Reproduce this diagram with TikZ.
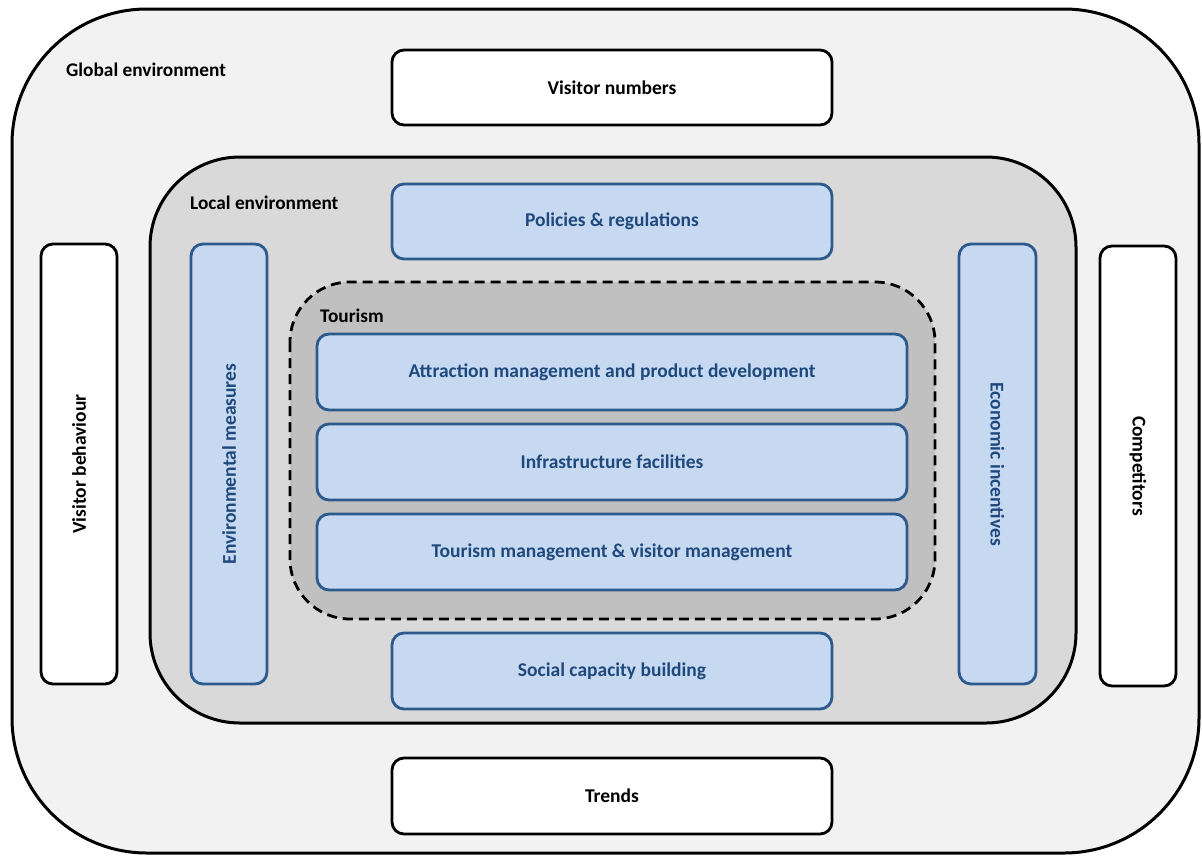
\documentclass[tikz,border=0pt]{standalone}
\usepackage{fontspec}
\setmainfont{Carlito}
\definecolor{globfill}{HTML}{F2F2F2}
\definecolor{locfill}{HTML}{D9D9D9}
\definecolor{tourfill}{HTML}{C0C0C0}
\definecolor{bluefill}{HTML}{C6D9F1}
\definecolor{blueline}{HTML}{2C5A8C}
\definecolor{bluetext}{HTML}{1F497D}
\begin{document}
\begin{tikzpicture}[x=1pt,y=-1pt,
  box/.style={rectangle, rounded corners=12pt, line width=2.8pt, inner sep=0pt, font=\bfseries\fontsize{19.5}{23}\selectfont},
  whitebox/.style={box, draw=black, fill=white, text=black},
  bluebox/.style={box, draw=blueline, fill=bluefill, text=bluetext},
  lbl/.style={anchor=west, inner sep=0pt, font=\bfseries\fontsize{19.3}{23}\selectfont}]
\useasboundingbox (0,0) rectangle (1202,855);
\fill[white] (0,0) rectangle (1202,855);
% containers
\draw[line width=3pt, fill=globfill, rounded corners=135pt] (12,9) rectangle (1199,853);
\draw[line width=3pt, fill=locfill, rounded corners=90pt] (150,157) rectangle (1076,723);
\draw[line width=2.8pt, fill=tourfill, dash pattern=on 10pt off 6pt, rounded corners=60pt] (290,282) rectangle (935,619);
\node[lbl] (glob) at (66,70) {Global environment};
\node[lbl] (loc) at (190,203) {Local environment};
\node[lbl] (tour) at (320,316) {Tourism};
% white boxes
\node[whitebox, minimum width=440pt, minimum height=75pt] (vn) at (612,87.5) {Visitor numbers};
\node[whitebox, minimum width=440pt, minimum height=76pt] (tr) at (612,796) {Trends};
\node[whitebox, minimum height=76pt, minimum width=440pt, rotate=90] (vb) at (79,464) {Visitor behaviour};
\node[whitebox, minimum height=76pt, minimum width=440pt, rotate=-90] (co) at (1138,466) {Competitors};
% blue boxes
\node[bluebox, minimum width=440pt, minimum height=75pt] (pr) at (612,221.5) {Policies \& regulations};
\node[bluebox, minimum width=440pt, minimum height=76pt] (sc) at (612,671) {Social capacity building};
\node[bluebox, minimum height=76pt, minimum width=440pt, rotate=90] (em) at (229,464) {Environmental measures};
\node[bluebox, minimum height=77pt, minimum width=440pt, rotate=-90] (ei) at (997.5,464) {Economic incentives};
\node[bluebox, minimum width=590pt, minimum height=76pt] (am) at (612,372) {Attraction management and product development};
\node[bluebox, minimum width=590pt, minimum height=76pt] (inf) at (612,462) {Infrastructure facilities};
\node[bluebox, minimum width=590pt, minimum height=76pt] (tm) at (612,552) {Tourism management \& visitor management};
\end{tikzpicture}
\end{document}
